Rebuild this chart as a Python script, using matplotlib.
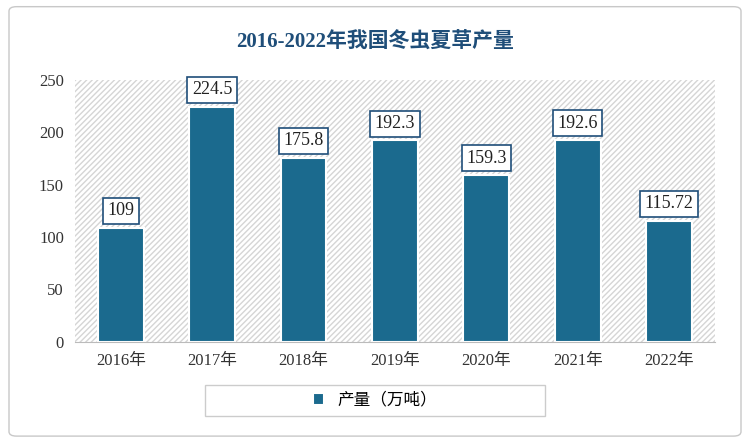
import matplotlib.pyplot as plt
from matplotlib.patches import FancyBboxPatch, Rectangle

plt.rcParams['font.family'] = ['Liberation Serif', 'Noto Sans CJK SC', 'Noto Sans CJK JP', 'DejaVu Sans']

years = ['2016年', '2017年', '2018年', '2019年', '2020年', '2021年', '2022年']
output = [109, 224.5, 175.8, 192.3, 159.3, 192.6, 115.72]
value_labels = ['109', '224.5', '175.8', '192.3', '159.3', '192.6', '115.72']

bar_color = '#1b6a8e'
title_color = '#1f4e79'

fig = plt.figure(figsize=(7.5, 4.45), dpi=100)
frame = FancyBboxPatch((0.012, 0.02), 0.976, 0.965, boxstyle='round,pad=0,rounding_size=0.01',
                       transform=fig.transFigure, facecolor='white', edgecolor='#c8c8c8', lw=1, zorder=-10)
fig.patches.append(frame)
ax = fig.add_axes([0.1, 0.232, 0.853, 0.588])
ax.set_facecolor('none')

ax.bar(range(len(years)), [250] * len(years), width=1.0, color='white', edgecolor='#d5d5d5',
       hatch='//////', lw=0, zorder=0)
bars = ax.bar(range(len(years)), output, width=0.5, color=bar_color, edgecolor='white', lw=1.5, zorder=2)

for i, (v, s) in enumerate(zip(output, value_labels)):
    ax.text(i, v + 8, s, ha='center', va='bottom', fontsize=13, color='#222222', zorder=3,
            bbox=dict(boxstyle='square,pad=0.25', fc='white', ec=title_color, lw=1.2))

ax.set_xlim(-0.5, len(years) - 0.5)
ax.set_ylim(0, 250)
ax.set_yticks(range(0, 251, 50))
ax.set_xticks(range(len(years)))
ax.set_xticklabels(years, fontsize=12, color='#333333')
ax.tick_params(axis='y', labelsize=12, labelcolor='#333333', length=0, pad=8)
ax.tick_params(axis='x', length=0, pad=8)
for s in ['top', 'right', 'left']:
    ax.spines[s].set_visible(False)
ax.spines['bottom'].set_color('#bbbbbb')

fig.text(0.5, 0.905, '2016-2022年我国冬虫夏草产量', ha='center', va='center', fontsize=15,
         color=title_color, fontweight='bold')

# legend box
fig.patches.append(Rectangle((0.273, 0.065), 0.453, 0.07, transform=fig.transFigure,
                             facecolor='white', edgecolor='#cccccc', lw=1))
leg = fig.legend([bars], ['产量（万吨）'], loc='center', bbox_to_anchor=(0.5, 0.1), frameon=False,
                 fontsize=12, handlelength=0.7, handleheight=0.7, borderaxespad=0)

fig.savefig('out.png', dpi=100)
